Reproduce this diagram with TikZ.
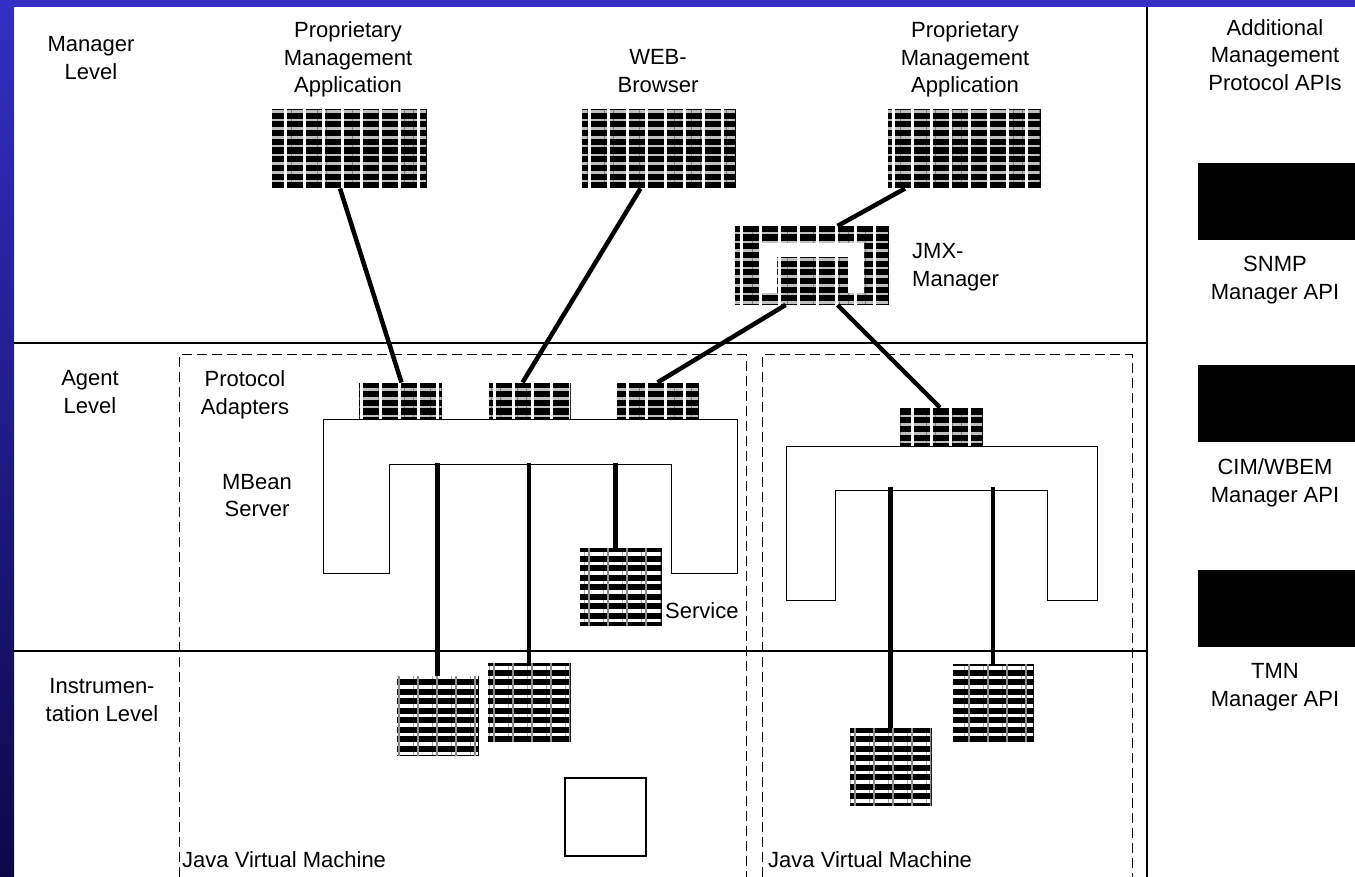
\documentclass[tikz,border=0pt]{standalone}
\usepackage{fontspec}
\setmainfont{Liberation Sans}
\usetikzlibrary{calc,patterns.meta}
\definecolor{slideblue}{RGB}{52,46,196}
\definecolor{slidenavy}{RGB}{10,8,72}

\begin{document}
\begin{tikzpicture}[x=1pt, y=-1pt, line join=miter,
    txt/.style={font=\fontsize{22}{27.5}\selectfont, align=center, inner sep=0pt},
    patbox/.style={draw=black, line width=1pt, fill=black, inner sep=0pt,
      postaction={pattern={Lines[angle=0,distance=8.7pt,line width=2.6pt]}, pattern color=white!75!black},
      postaction={pattern={Lines[angle=90,distance=19pt,line width=3pt]}, pattern color=white}},
    stripbox/.style={draw=black, line width=1pt, fill=black, inner sep=0pt,
      postaction={pattern={Lines[angle=0,distance=9.5pt,line width=3.5pt]}, pattern color=white},
      postaction={pattern={Lines[angle=90,distance=19pt,line width=2pt]}, pattern color=white!55!black}},
    apibox/.style={fill=black, inner sep=0pt, minimum width=157pt, minimum height=77pt},
    conn/.style={line width=4.5pt},
    levelline/.style={line width=1.3pt},
    jvmline/.style={line width=1pt, dash pattern=on 10pt off 5pt}]
    \useasboundingbox (0,0) rectangle (1355,877);
    % slide frame
    \fill[slideblue] (0,0) rectangle (1355,7);
    \shade[top color=slideblue, bottom color=slidenavy] (0,0) rectangle (14,877);
    % levels
    \draw[levelline] (14,343) -- (1147,343);
    \draw[levelline] (14,651) -- (1147,651);
    \draw[line width=2pt] (1147,7) -- (1147,877);
    \draw[jvmline] (179,877) |- (746,355) -- (746,877);
    \draw[jvmline] (762,877) |- (1132,355) -- (1132,877);
    \node[txt] (mgrlvl) at (91,58) {Manager\\Level};
    \node[txt] (agtlvl) at (90,392) {Agent\\Level};
    \node[txt] (inslvl) at (102,700) {Instrumen-\\tation Level};
    % manager level
    \node[patbox, minimum width=154pt, minimum height=78pt] (pmaL) at (349,149) {};
    \node[patbox, minimum width=153pt, minimum height=78pt] (web) at (658.5,149) {};
    \node[patbox, minimum width=152pt, minimum height=78pt] (pmaR) at (964,149) {};
    \node[txt] (pmaLtxt) at (348,59.5) {Proprietary\\Management\\Application};
    \node[txt] (webtxt) at (658,71) {WEB-\\Browser};
    \node[txt] (pmaRtxt) at (965,59.5) {Proprietary\\Management\\Application};
    \node[patbox, minimum width=153pt, minimum height=78pt] (jmx) at (811.5,265.5) {};
    \fill[white] (761,293) |- (864,243) |- (848,293) |- (777,257) -- (777,293) -- cycle;
    \node[txt, align=left, anchor=west] (jmxtxt) at (912,267) {JMX-\\Manager};
    % agent level
    \draw[line width=1pt, fill=white] (323,419) -- (737,419) -- (737,573) -- (671,573)
        -- (671,464) -- (389,464) -- (389,573) -- (323,573) -- cycle;
    \draw[line width=1pt, fill=white] (786,446) -- (1097,446) -- (1097,600) -- (1047,600)
        -- (1047,490) -- (835,490) -- (835,600) -- (786,600) -- cycle;
    \coordinate (inL) at (389,463);
    \coordinate (inR) at (835,487);
    \node[patbox, minimum width=82pt, minimum height=35pt] (adA) at (400.5,400.5) {};
    \node[patbox, minimum width=81pt, minimum height=35pt] (adB) at (529.5,400.5) {};
    \node[patbox, minimum width=81pt, minimum height=35pt] (adC) at (657.5,400.5) {};
    \node[patbox, minimum width=82pt, minimum height=37pt] (adR) at (941,426.5) {};
    \node[txt] (adtxt) at (245,395) {Protocol\\Adapters};
    \node[txt] (mbtxt) at (257,495.5) {MBean\\Server};
    \node[stripbox, minimum width=81pt, minimum height=77pt] (svc) at (620.5,586.5) {};
    \node[txt, anchor=base west] (svctxt) at (665,618) {Service};
    % instrumentation level
    \node[stripbox, minimum width=81pt, minimum height=79pt] (ibA) at (437.5,715.5) {};
    \node[stripbox, minimum width=82pt, minimum height=78pt] (ibB) at (529,702) {};
    \node[draw, line width=1.2pt, minimum width=81pt, minimum height=78pt] (spare) at (605.5,817) {};
    \node[stripbox, minimum width=81pt, minimum height=77pt] (irA) at (890.5,766.5) {};
    \node[stripbox, minimum width=80pt, minimum height=77pt] (irB) at (993,702.5) {};
    \node[txt, anchor=base west] (jvmL) at (182,867) {Java Virtual Machine};
    \node[txt, anchor=base west] (jvmR) at (768,867) {Java Virtual Machine};
    % connections
    \draw[conn] ([xshift=-9pt]pmaL.south) -- ([xshift=1pt]adA.north);
    \draw[conn] ([xshift=-18pt]web.south) -- ([xshift=-7pt]adB.north);
    \draw[conn] ([xshift=-59pt]pmaR.south) -- ([xshift=26pt]jmx.north);
    \draw[conn] ([xshift=-26pt]jmx.south) -- (adC.north);
    \draw[conn] ([xshift=26pt]jmx.south) -- ([xshift=-1pt]adR.north);
    \draw[conn] (ibA.north) -- (ibA.north |- inL);
    \draw[conn] (ibB.north) -- (ibB.north |- inL);
    \draw[conn] ([xshift=-5pt]svc.north) -- ([xshift=-5pt]svc.north |- inL);
    \draw[conn] (irA.north) -- (irA.north |- inR);
    \draw[conn] (irB.north) -- (irB.north |- inR);
    % other protocol APIs
    \node[txt] (addtxt) at (1275,55) {Additional\\Management\\Protocol APIs};
    \node[apibox] (snmp) at (1276.5,201.5) {};
    \node[apibox] (cim) at (1276.5,403) {};
    \node[apibox] (tmn) at (1276.5,608.5) {};
    \node[txt] (snmptxt) at (1275,280) {SNMP\\Manager API};
    \node[txt] (cimtxt) at (1275,483) {CIM/WBEM\\Manager API};
    \node[txt] (tmntxt) at (1275,687) {TMN\\Manager API};
\end{tikzpicture}
\end{document}
